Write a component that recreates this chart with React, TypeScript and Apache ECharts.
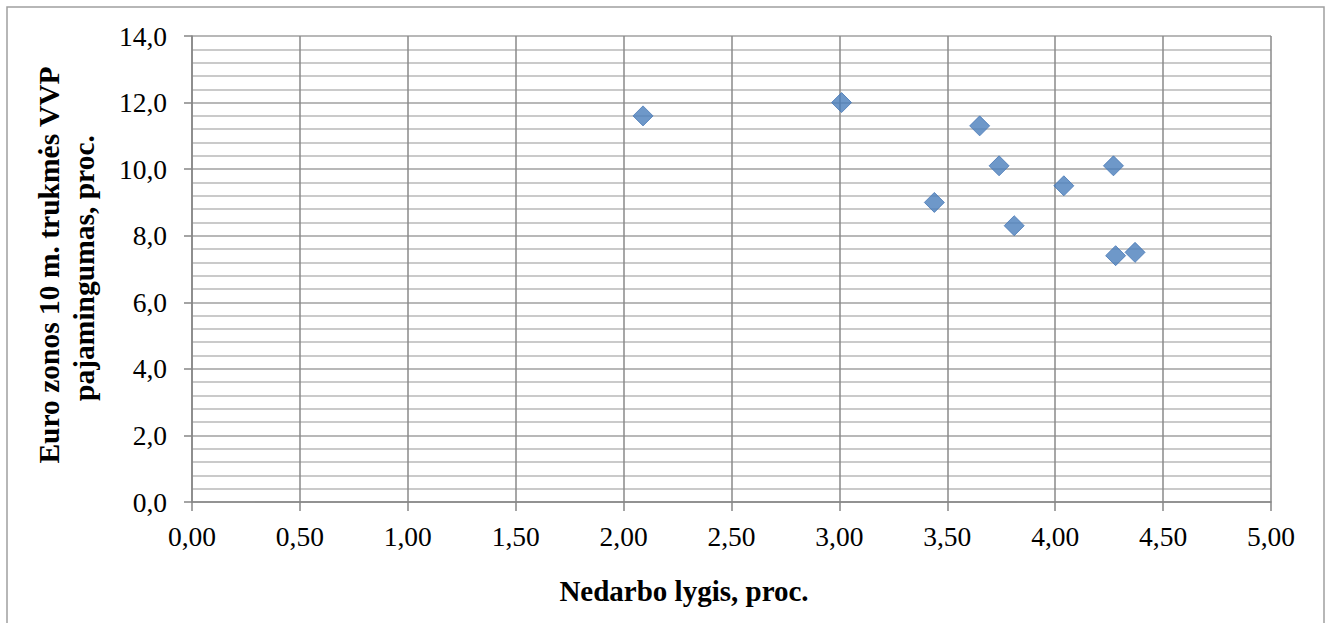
import React, { useEffect, useRef } from "react";
import * as echarts from "echarts";

const unemployment = [2.09, 3.01, 3.65, 3.74, 3.44, 3.81, 4.04, 4.27, 4.28, 4.37];
const bondYield = [11.6, 12.0, 11.3, 10.1, 9.0, 8.3, 9.5, 10.1, 7.4, 7.5];
const xTitle = "Nedarbo lygis, proc.";
const yTitleLines = ["Euro zonos 10 m. trukmės VVP", "pajamingumas, proc."];

const FONT = "'Liberation Serif', 'Times New Roman', serif";

export default function App() {
  const ref = useRef<HTMLDivElement>(null);
  useEffect(() => {
    if (!ref.current) return;
    const chart = echarts.init(ref.current, undefined, { renderer: "svg" });
    const points = unemployment.map((x, i) => [x, bondYield[i]]);
    chart.setOption({
      animation: false,
      backgroundColor: "#ffffff",
      grid: { left: 192, top: 36, right: 59, bottom: 121, containLabel: false },
      xAxis: {
        type: "value",
        min: 0,
        max: 5,
        interval: 0.5,
        axisLine: { show: true, onZero: false, lineStyle: { color: "#868686", width: 1.5 } },
        axisTick: { show: true, length: 9, lineStyle: { color: "#868686", width: 1.5 } },
        axisLabel: {
          margin: 20,
          fontFamily: FONT,
          fontSize: 27.5,
          color: "#000",
          formatter: (v: number) => v.toFixed(2).replace(".", ","),
        },
        splitLine: { show: true, lineStyle: { color: "#8a8a8a", width: 1.5 } },
      },
      yAxis: {
        type: "value",
        min: 0,
        max: 14,
        interval: 2,
        axisLine: { show: true, onZero: false, lineStyle: { color: "#868686", width: 1.5 } },
        axisTick: { show: true, length: 8, lineStyle: { color: "#868686", width: 1.5 } },
        axisLabel: {
          margin: 25,
          fontFamily: FONT,
          fontSize: 27.5,
          color: "#000",
          formatter: (v: number) => v.toFixed(1).replace(".", ","),
        },
        splitLine: { show: true, lineStyle: { color: "#a0a0a0", width: 1.5 } },
        minorTick: { show: false, splitNumber: 5 },
        minorSplitLine: { show: true, lineStyle: { color: "#b8b8b8", width: 1.5 } },
      },
      series: [
        {
          type: "scatter",
          data: points,
          symbol: "diamond",
          symbolSize: 20,
          itemStyle: { color: "#4a7ebb", borderColor: "#4677b5", borderWidth: 1 },
        },
      ],
      graphic: [
        {
          type: "rect",
          shape: { x: 7, y: 7, width: 1317, height: 640 },
          style: { fill: "none", stroke: "#a0a0a0", lineWidth: 1.5 },
          silent: true,
        },
        {
          type: "text",
          x: 684,
          y: 591,
          style: {
            text: xTitle,
            font: `bold 29px ${FONT}`,
            fill: "#000",
            textAlign: "center",
            textVerticalAlign: "middle",
          },
        },
        {
          type: "text",
          x: 49,
          y: 265,
          rotation: Math.PI / 2,
          style: {
            text: yTitleLines[0],
            font: `bold 29.5px ${FONT}`,
            fill: "#000",
            textAlign: "center",
            textVerticalAlign: "middle",
          },
        },
        {
          type: "text",
          x: 84,
          y: 268,
          rotation: Math.PI / 2,
          style: {
            text: yTitleLines[1],
            font: `bold 29.5px ${FONT}`,
            fill: "#000",
            textAlign: "center",
            textVerticalAlign: "middle",
          },
        },
      ],
    });
    return () => chart.dispose();
  }, []);
  return (
    <div
      ref={ref}
      style={{ position: "fixed", left: 0, top: 0, width: 1330, height: 623 }}
    />
  );
}
